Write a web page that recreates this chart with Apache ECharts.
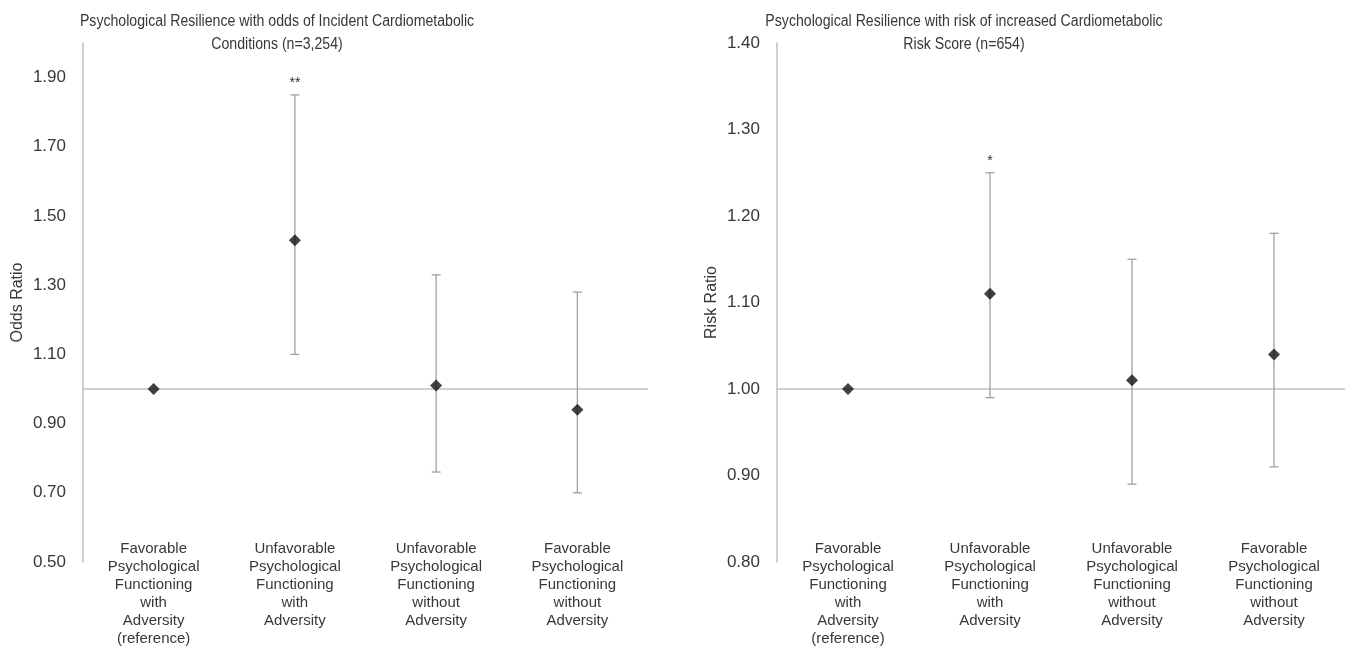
<!DOCTYPE html>
<html>
<head>
<meta charset="utf-8">
<script src="https://cdn.jsdelivr.net/npm/echarts@6/dist/echarts.min.js"></script>
<style>
html,body{margin:0;padding:0;background:#fff;}
#chart{width:1352px;height:650px;}
</style>
</head>
<body>
<div id="chart"></div>
<script>
var categories = [
  "Favorable\nPsychological\nFunctioning\nwith\nAdversity\n(reference)",
  "Unfavorable\nPsychological\nFunctioning\nwith\nAdversity",
  "Unfavorable\nPsychological\nFunctioning\nwithout\nAdversity",
  "Favorable\nPsychological\nFunctioning\nwithout\nAdversity"
];
var oddsRatio = [1.00, 1.43, 1.01, 0.94];
var oddsLower = [null, 1.10, 0.76, 0.70];
var oddsUpper = [null, 1.85, 1.33, 1.28];
var oddsSig = ["", "**", "", ""];
var riskRatio = [1.00, 1.11, 1.01, 1.04];
var riskLower = [null, 0.99, 0.89, 0.91];
var riskUpper = [null, 1.25, 1.15, 1.18];
var riskSig = ["", "*", "", ""];
var titleLeft = "Psychological Resilience with odds of Incident Cardiometabolic\nConditions (n=3,254)";
var titleRight = "Psychological Resilience with risk of increased Cardiometabolic\nRisk Score (n=654)";

var FONT = "'Liberation Sans', Arial, sans-serif";
var TXT = '#383838';
var AXIS = '#bfbfbf';
var ERR = '#a0a0a0';

function errData(lo, hi) {
  var d = [];
  for (var i = 0; i < lo.length; i++) {
    if (lo[i] !== null) d.push([i, lo[i], hi[i]]);
  }
  return d;
}

function makeRenderErr(sigArr) {
  return function (params, api) {
    var x = api.value(0);
    var pLo = api.coord([x, api.value(1)]);
    var pHi = api.coord([x, api.value(2)]);
    var sig = sigArr[Math.round(x)] || '';
    var cap = 4.5;
    var st = {stroke: ERR, lineWidth: 1.3};
    var children = [
      {type: 'line', shape: {x1: pLo[0], y1: pLo[1], x2: pHi[0], y2: pHi[1]}, style: st},
      {type: 'line', shape: {x1: pLo[0] - cap, y1: pLo[1], x2: pLo[0] + cap, y2: pLo[1]}, style: st},
      {type: 'line', shape: {x1: pHi[0] - cap, y1: pHi[1], x2: pHi[0] + cap, y2: pHi[1]}, style: st}
    ];
    if (sig) {
      children.push({type: 'text', x: pHi[0], y: pHi[1] - 5,
        style: {text: sig, fill: '#333', font: '14px ' + FONT, align: 'center', verticalAlign: 'bottom'}});
    }
    return {type: 'group', children: children};
  };
}

function xAxisCfg(gi) {
  return {
    type: 'category', gridIndex: gi, data: categories,
    axisLine: {show: false}, axisTick: {show: false}, splitLine: {show: false},
    axisLabel: {interval: 0, margin: -22, color: TXT, fontSize: 15, lineHeight: 18, fontFamily: FONT}
  };
}

function titleGraphic(text, cx) {
  return {type: 'text', x: cx, y: 33, scaleX: 0.883, silent: true,
    style: {text: text, fill: TXT, fontSize: 16, fontFamily: FONT, lineHeight: 23,
      align: 'center', verticalAlign: 'middle'}};
}

var option = {
  animation: false,
  backgroundColor: '#fff',
  graphic: [titleGraphic(titleLeft, 277), titleGraphic(titleRight, 964)],
  grid: [
    {left: 83, top: 43, width: 565, height: 519},
    {left: 777, top: 43, width: 568, height: 519}
  ],
  xAxis: [xAxisCfg(0), xAxisCfg(1)],
  yAxis: [
    {type: 'value', gridIndex: 0, min: 0.5, max: 2.0, interval: 0.1,
     name: 'Odds Ratio', nameLocation: 'middle', nameGap: 57, nameRotate: 90,
     nameTextStyle: {fontSize: 16, color: TXT, fontFamily: FONT},
     axisLine: {show: true, lineStyle: {color: AXIS, width: 1.5}},
     axisTick: {show: false}, splitLine: {show: false},
     axisLabel: {margin: 17, color: TXT, fontSize: 17, fontFamily: FONT,
       formatter: function (v) { var t = Math.round(v * 10); return (t % 2 === 1) ? v.toFixed(2) : ''; }}},
    {type: 'value', gridIndex: 1, min: 0.8, max: 1.4, interval: 0.1,
     name: 'Risk Ratio', nameLocation: 'middle', nameGap: 57, nameRotate: 90,
     nameTextStyle: {fontSize: 16, color: TXT, fontFamily: FONT},
     axisLine: {show: true, lineStyle: {color: AXIS, width: 1.5}},
     axisTick: {show: false}, splitLine: {show: false},
     axisLabel: {margin: 17, color: TXT, fontSize: 17, fontFamily: FONT,
       formatter: function (v) { return v.toFixed(2); }}}
  ],
  series: [
    {type: 'custom', xAxisIndex: 0, yAxisIndex: 0, renderItem: makeRenderErr(oddsSig),
     data: errData(oddsLower, oddsUpper), z: 3, silent: true},
    {type: 'scatter', xAxisIndex: 0, yAxisIndex: 0, data: oddsRatio, symbol: 'diamond', symbolSize: 12,
     itemStyle: {color: '#111'}, z: 5,
     markLine: {silent: true, symbol: 'none', label: {show: false},
       lineStyle: {color: AXIS, width: 1.5, type: 'solid'}, data: [{yAxis: 1}], z: 1}},
    {type: 'custom', xAxisIndex: 1, yAxisIndex: 1, renderItem: makeRenderErr(riskSig),
     data: errData(riskLower, riskUpper), z: 3, silent: true},
    {type: 'scatter', xAxisIndex: 1, yAxisIndex: 1, data: riskRatio, symbol: 'diamond', symbolSize: 12,
     itemStyle: {color: '#111'}, z: 5,
     markLine: {silent: true, symbol: 'none', label: {show: false},
       lineStyle: {color: AXIS, width: 1.5, type: 'solid'}, data: [{yAxis: 1}], z: 1}}
  ]
};
var chart = echarts.init(document.getElementById('chart'));
chart.setOption(option);
</script>
</body>
</html>
